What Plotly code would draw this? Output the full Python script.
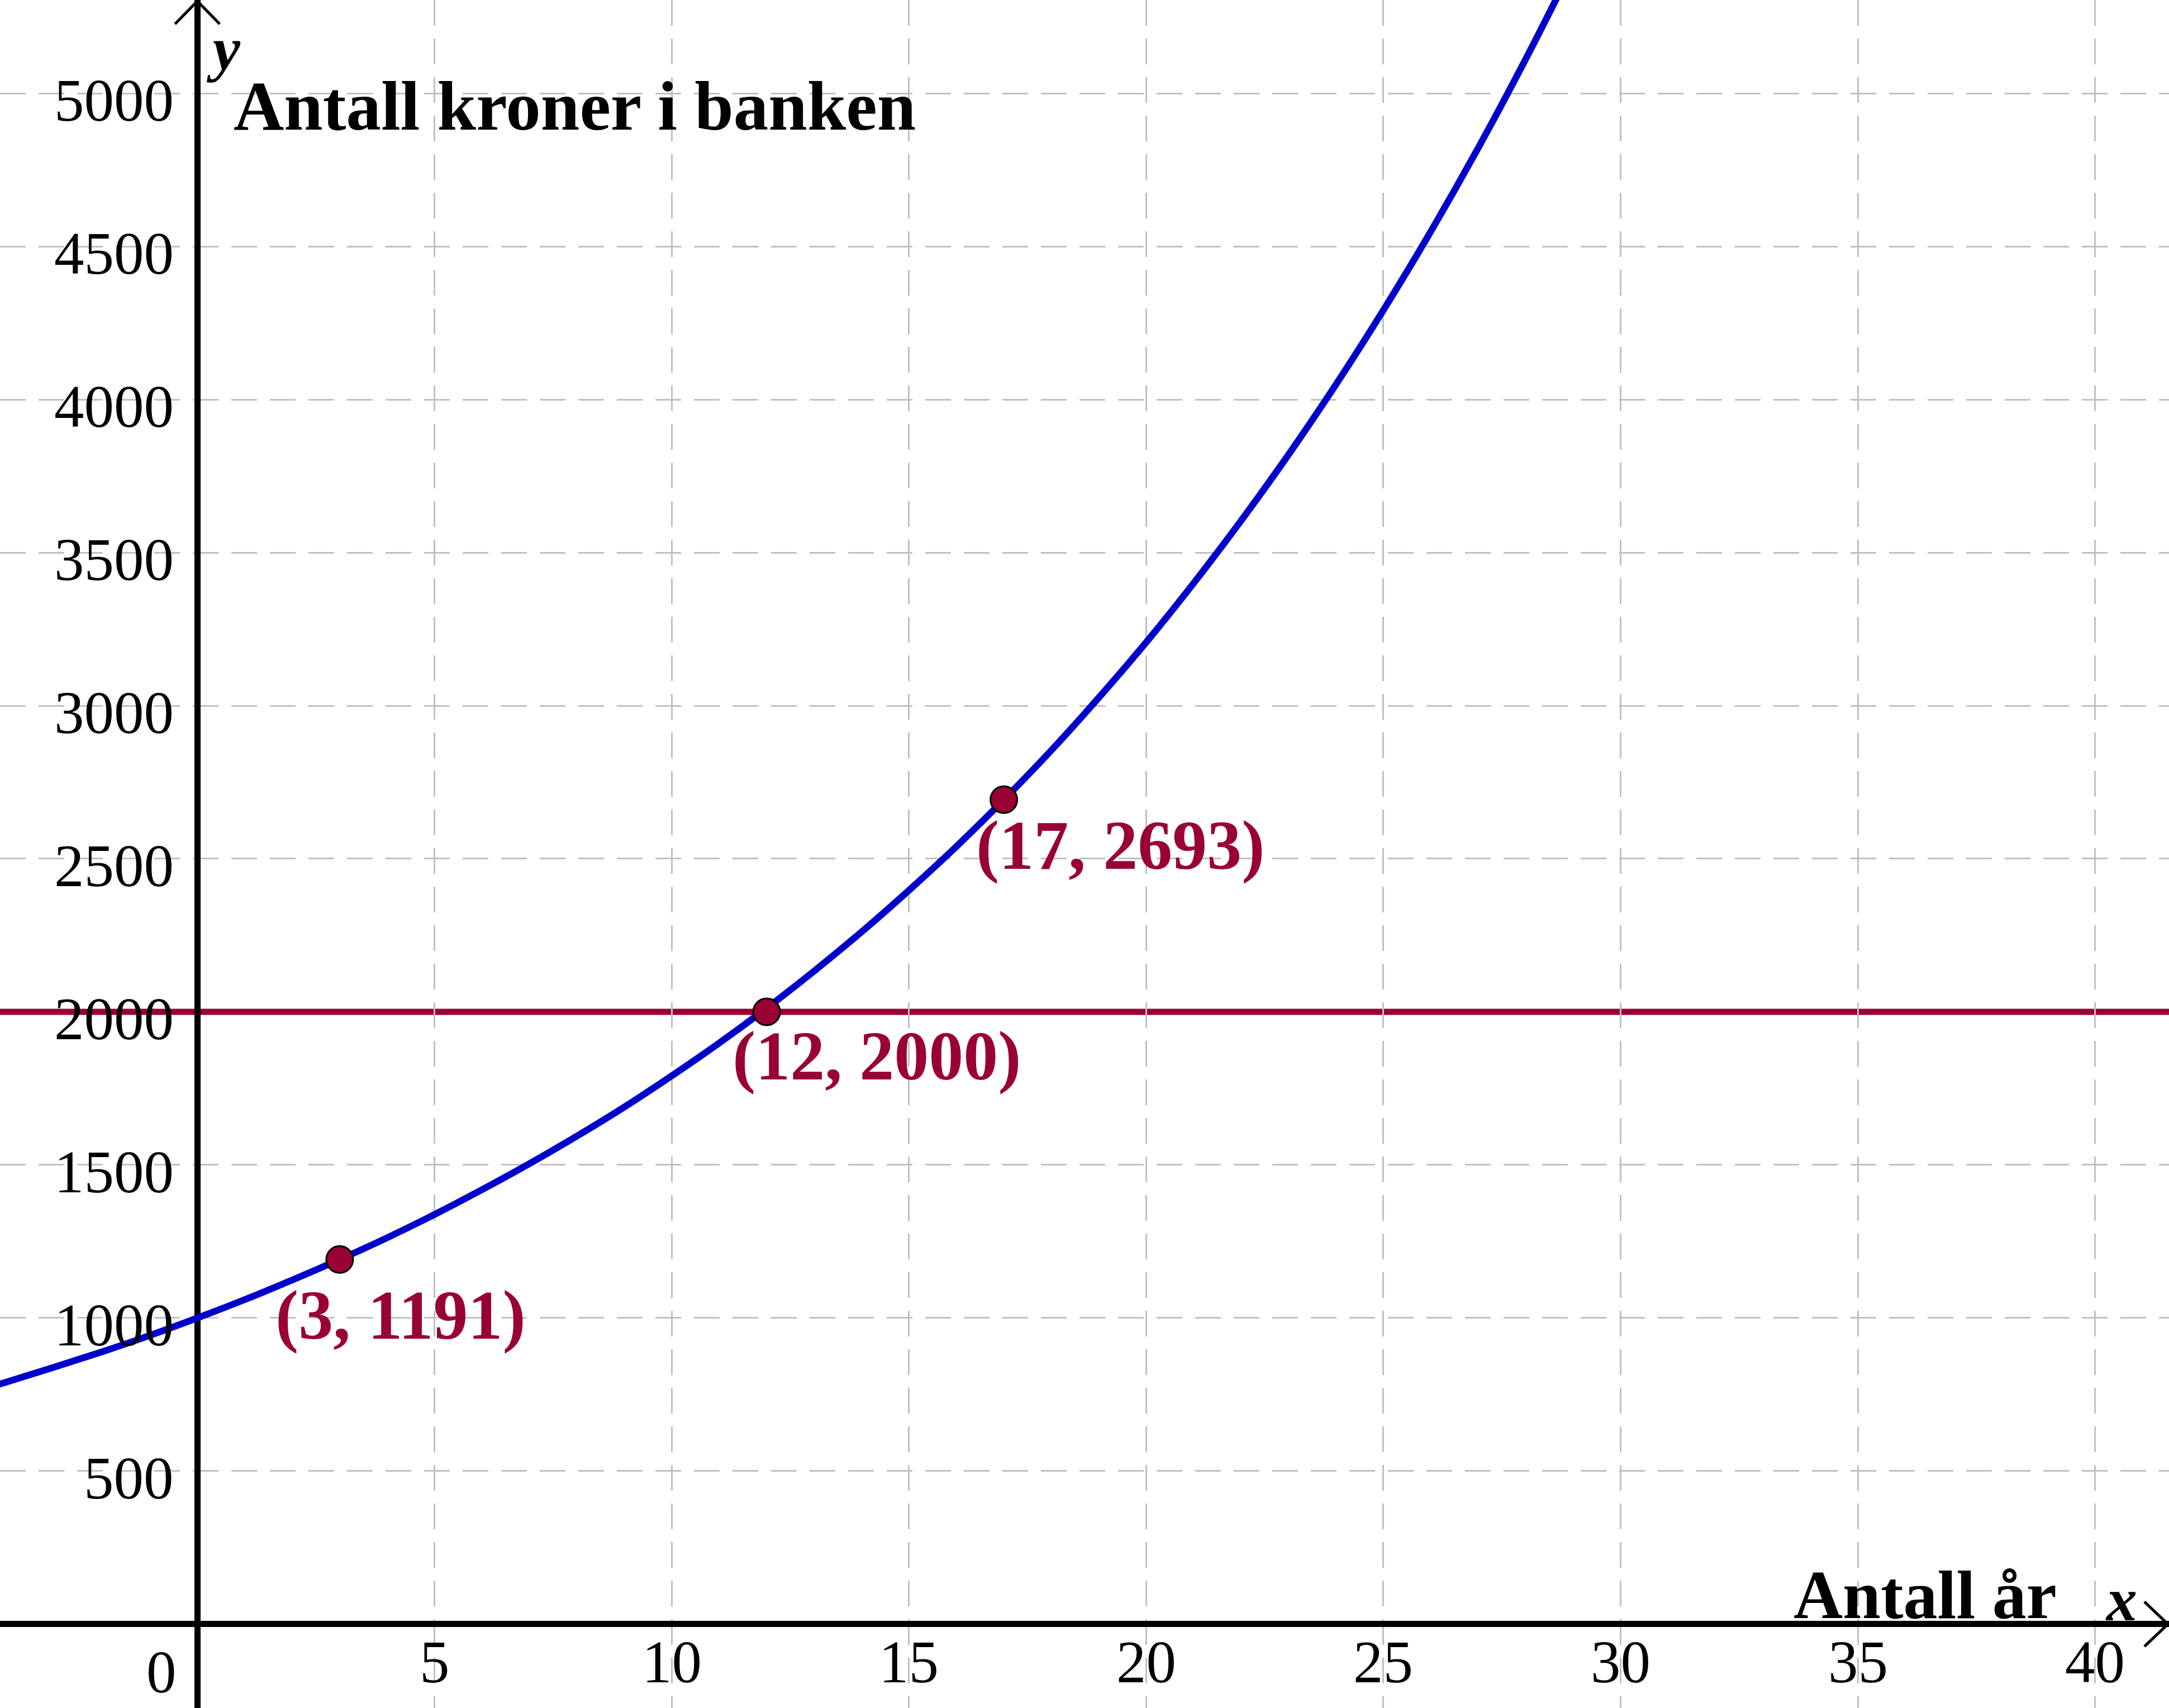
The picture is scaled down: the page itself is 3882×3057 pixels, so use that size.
import plotly.graph_objects as go

# ---- data ----
years = [-5, -4, -3, -2, -1, 0, 1, 2, 3, 4, 5, 6, 7, 8, 9, 10, 11, 12, 13, 14,
         15, 16, 17, 18, 19, 20, 21, 22, 23, 24, 25, 26, 27, 28, 29]
kroner = [747, 792, 840, 890, 943, 1000, 1060, 1124, 1191, 1262, 1338, 1419, 1504,
          1594, 1689, 1791, 1898, 2012, 2133, 2261, 2397, 2540, 2693, 2854, 3026,
          3207, 3400, 3604, 3820, 4049, 4292, 4549, 4822, 5112, 5418]
target_value = 2000
pts_x = [3, 12, 17]
pts_y = [1191, 2000, 2693]
pts_labels = ["(3, 1191)", "(12, 2000)", "(17, 2693)"]
x_ticks = [5, 10, 15, 20, 25, 30, 35, 40]
y_ticks = [500, 1000, 1500, 2000, 2500, 3000, 3500, 4000, 4500, 5000]

W, H = 3882, 3057
XR = [-4.16, 41.56]
YR = [-274, 5305]
BLUE = "rgb(0,0,204)"
RED = "rgb(153,0,51)"
FONT = "Liberation Serif"

fig = go.Figure()

fig.add_shape(type="line", xref="paper", x0=0, x1=1, yref="y", y0=target_value, y1=target_value,
              line=dict(color=RED, width=11), layer="between")

fig.add_trace(go.Scatter(x=years, y=kroner, mode="lines", line=dict(color=BLUE, width=12, shape="spline"),
                         hoverinfo="skip", showlegend=False))
fig.add_trace(go.Scatter(x=pts_x, y=pts_y, mode="markers",
                         marker=dict(size=48, color=RED, line=dict(color="black", width=3)),
                         showlegend=False))

# point labels (offsets in px)
shifts = [(109, -100), (197, -80), (209, -82)]
for x, y, t, (dx, dy) in zip(pts_x, pts_y, pts_labels, shifts):
    fig.add_annotation(x=x, y=y, text="<b>" + t + "</b>", showarrow=False, xshift=dx, yshift=dy,
                       xanchor="center", yanchor="middle",
                       font=dict(family=FONT, size=124, color=RED))

# tick labels
for v in y_ticks:
    fig.add_annotation(x=0, y=v, text=str(v), showarrow=False, xanchor="right", yanchor="middle",
                       xshift=-40, yshift=-13, font=dict(family=FONT, size=107, color="black"))
for v in x_ticks:
    fig.add_annotation(x=v, y=0, text=str(v), showarrow=False, xanchor="center", yanchor="middle",
                       yshift=-68, font=dict(family=FONT, size=107, color="black"))
fig.add_annotation(x=0, y=0, text="0", showarrow=False, xanchor="center", yanchor="middle",
                   xshift=-64, yshift=-86, font=dict(family=FONT, size=107, color="black"))

# axis titles
fig.add_annotation(x=0.74, y=4959, text="<b>Antall kroner i banken</b>", showarrow=False,
                   xanchor="left", yanchor="middle", font=dict(family=FONT, size=125, color="black"))
fig.add_annotation(x=0.55, y=5145, text="<b><i>y</i></b>", showarrow=False,
                   xanchor="center", yanchor="middle", font=dict(family=FONT, size=110, color="black"))
fig.add_annotation(x=39.22, y=95, text="<b>Antall år</b>", showarrow=False,
                   xanchor="right", yanchor="middle", font=dict(family=FONT, size=122, color="black"))
fig.add_annotation(x=40.55, y=80, text="<b><i>x</i></b>", showarrow=False,
                   xanchor="center", yanchor="middle", font=dict(family=FONT, size=110, color="black"))

# arrow heads (open chevrons)
fig.add_shape(type="path", xref="x", yref="y", xsizemode="pixel", ysizemode="pixel",
              xanchor=XR[1], yanchor=0, path="M -44,40 L -2,0 L -44,-40",
              line=dict(color="black", width=5), layer="above")
fig.add_shape(type="path", xref="x", yref="y", xsizemode="pixel", ysizemode="pixel",
              xanchor=0, yanchor=YR[1], path="M -40,-43 L 0,-2 L 40,-43",
              line=dict(color="black", width=5), layer="above")

grid = dict(showgrid=True, gridcolor="rgb(192,192,192)", gridwidth=3, griddash="46px,23px",
            zeroline=True, zerolinecolor="black", zerolinewidth=11,
            showticklabels=False, ticks="", showline=False)
fig.update_xaxes(range=XR, tickmode="array", tickvals=x_ticks, **grid)
fig.update_yaxes(range=YR, tickmode="array",
                 tickvals=[v for v in y_ticks if v != target_value], **grid)

fig.update_layout(width=W, height=H, margin=dict(l=0, r=0, t=0, b=0),
                  plot_bgcolor="white", paper_bgcolor="white", showlegend=False)

fig.write_html("out.html", config={"displayModeBar": False},
               post_script="document.body.style.margin='0';document.body.style.overflow='hidden';")
